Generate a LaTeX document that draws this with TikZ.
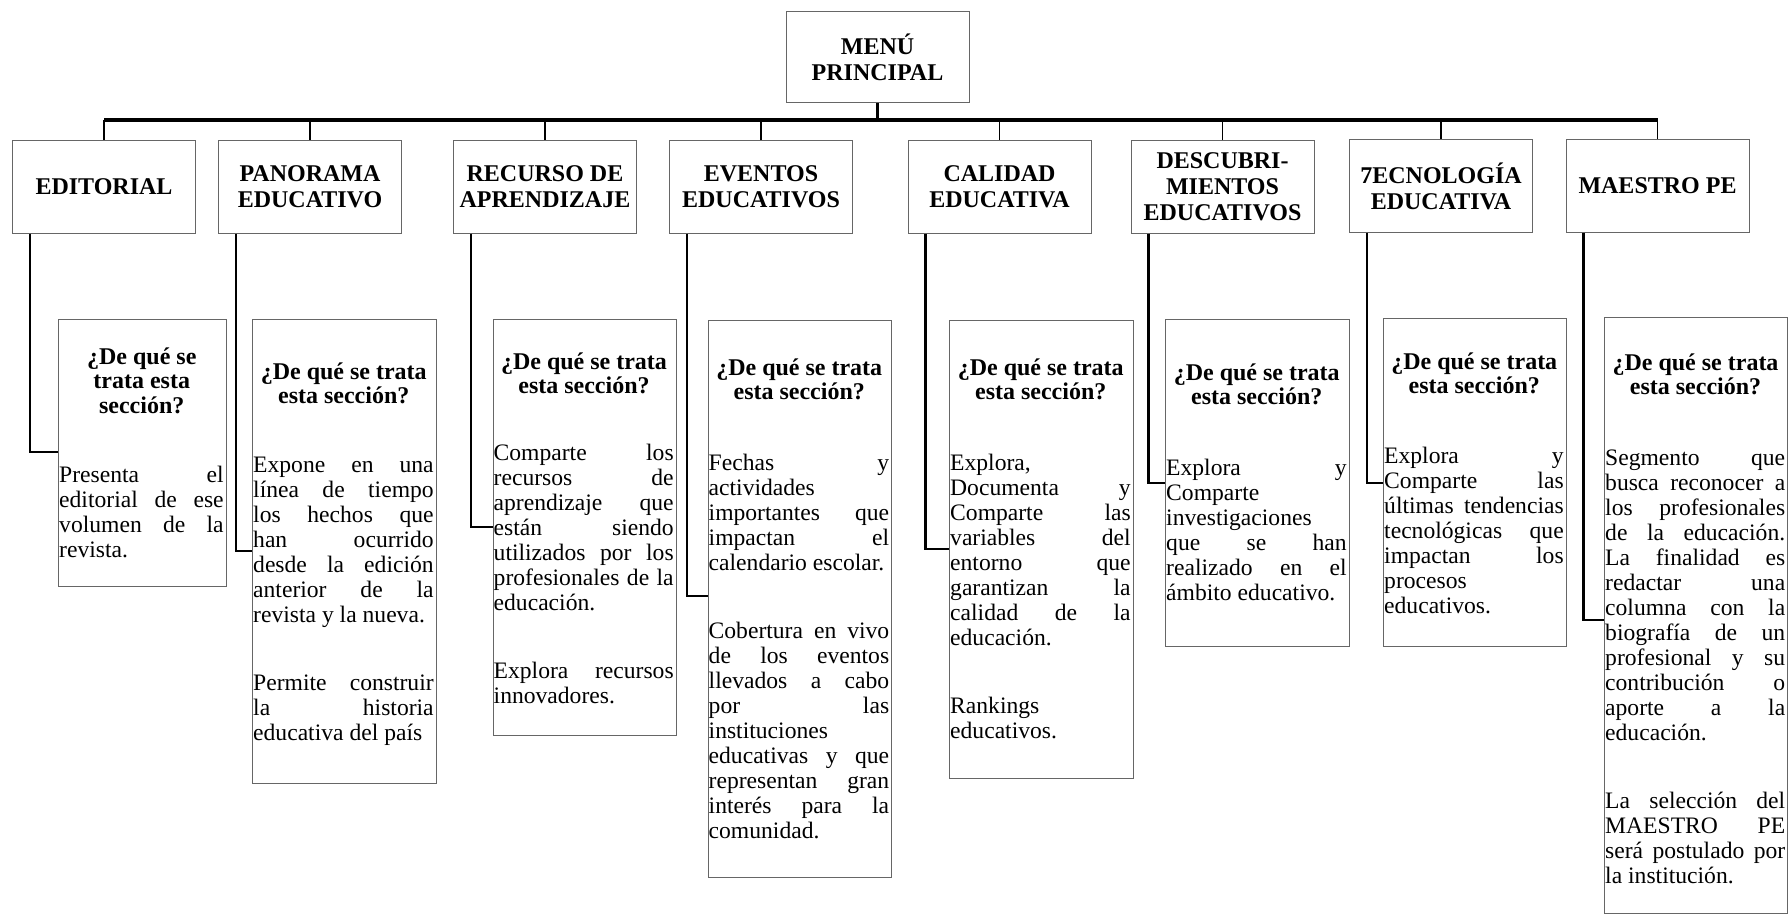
\documentclass[tikz,border=0pt]{standalone}
\usepackage{fontspec}
\setmainfont{Liberation Serif}
\tolerance=10000
\hbadness=10000
\hyphenpenalty=10000

\begin{document}
\begin{tikzpicture}[x=1pt, y=-1pt,
    seccion/.style={draw=black!60, line width=1pt, minimum width=183pt, minimum height=92pt,
      inner sep=0pt, align=center, font=\fontsize{24}{26}\selectfont\bfseries},
    caja/.style={draw=black!60, line width=1pt, anchor=north west, inner sep=0pt},
    pregunta/.style={anchor=base, inner sep=0pt, align=center, font=\fontsize{24}{24.5}\selectfont\bfseries},
    texto/.style={anchor=base west, inner sep=0pt, align=justify, font=\fontsize{23.6}{25}\selectfont},
    barra/.style={line width=3.4pt},
    rama/.style={line width=1.8pt},
    enlace/.style={line width=2.4pt}]

   \useasboundingbox (0,0) rectangle (1789,915);

   % menu and the eight sections
   \node[seccion, minimum height=91pt] (menu) at (877.5,57) {MENÚ\\PRINCIPAL};
   \node[seccion] (ed)  at (104,187)    {EDITORIAL};
   \node[seccion] (pan) at (310,187)    {PANORAMA\\EDUCATIVO};
   \node[seccion] (rec) at (545,187)    {RECURSO DE\\APRENDIZAJE};
   \node[seccion] (ev)  at (761,187)    {EVENTOS\\EDUCATIVOS};
   \node[seccion] (cal) at (999.5,187)  {CALIDAD\\EDUCATIVA};
   \node[seccion] (des) at (1222.5,187) {DESCUBRI-\\MIENTOS\\EDUCATIVOS};
   \node[seccion] (tec) at (1441,186)   {7ECNOLOGÍA\\EDUCATIVA};
   \node[seccion] (mae) at (1657.5,186) {MAESTRO PE};
   \coordinate (bus) at (877.5,120);

   % description boxes
   \node[caja, minimum width=167.5pt, minimum height=267pt] (s1) at (58,319) {};
   \node[caja, minimum width=183.5pt, minimum height=464pt] (s2) at (252,319) {};
   \node[caja, minimum width=183pt,   minimum height=416pt] (s3) at (492.5,319) {};
   \node[caja, minimum width=183.5pt, minimum height=557pt] (s4) at (707.5,320) {};
   \node[caja, minimum width=183.5pt, minimum height=458pt] (s5) at (949,320) {};
   \node[caja, minimum width=183.5pt, minimum height=327pt] (s6) at (1165,319) {};
   \node[caja, minimum width=182.5pt, minimum height=328pt] (s7) at (1383,318) {};
   \node[caja, minimum width=183pt,   minimum height=596pt] (s8) at (1604,317) {};

   % headings sit on the baseline of their last line
   \node[pregunta] (q1) at (141.75,413)  {¿De qué se\\trata esta\\sección?};
   \node[pregunta] (q2) at (343.75,403.5) {¿De qué se trata\\esta sección?};
   \node[pregunta] (q3) at (584,393.5)     {¿De qué se trata\\esta sección?};
   \node[pregunta] (q4) at (799.25,399.5)  {¿De qué se trata\\esta sección?};
   \node[pregunta] (q5) at (1040.75,399.5) {¿De qué se trata\\esta sección?};
   \node[pregunta] (q6) at (1256.75,404.5) {¿De qué se trata\\esta sección?};
   \node[pregunta] (q7) at (1474.25,393.5) {¿De qué se trata\\esta sección?};
   \node[pregunta] (q8) at (1695.5,394.5)  {¿De qué se trata\\esta sección?};

   \node[texto, text width=164.5pt] (b1) at (59,482)
     {Presenta el\linebreak editorial de ese\linebreak volumen de la\linebreak revista.};
   \node[texto, text width=180.5pt] (b2) at (253,472)
     {Expone en una\linebreak línea de tiempo\linebreak los hechos que\linebreak han ocurrido\linebreak
      desde la edición\linebreak anterior de la\linebreak revista y la nueva.\\[43.5pt]
      Permite construir\linebreak la historia\linebreak educativa del país};
   \node[texto, text width=180pt] (b3) at (493.5,460)
     {Comparte los\linebreak recursos de\linebreak aprendizaje que\linebreak están siendo\linebreak
      utilizados por los\linebreak profesionales de la\linebreak educación.\\[43.5pt]
      Explora recursos\linebreak innovadores.};
   \node[texto, text width=180.5pt] (b4) at (708.5,470)
     {Fechas y\linebreak actividades\linebreak importantes que\linebreak impactan el\linebreak
      calendario escolar.\\[43.5pt]
      Cobertura en vivo\linebreak de los eventos\linebreak llevados a cabo\linebreak por las\linebreak
      instituciones\linebreak educativas y que\linebreak representan gran\linebreak interés para la\linebreak
      comunidad.};
   \node[texto, text width=180.5pt] (b5) at (950,470)
     {Explora,\linebreak Documenta y\linebreak Comparte las\linebreak variables del\linebreak
      entorno que\linebreak garantizan la\linebreak calidad de la\linebreak educación.\\[43.5pt]
      Rankings\linebreak educativos.};
   \node[texto, text width=180.5pt] (b6) at (1166,475)
     {Explora y\linebreak Comparte\linebreak investigaciones\linebreak que se han\linebreak
      realizado en el\linebreak ámbito educativo.};
   \node[texto, text width=179.5pt] (b7) at (1384,463)
     {Explora y\linebreak Comparte las\linebreak últimas tendencias\linebreak tecnológicas que\linebreak
      impactan los\linebreak procesos\linebreak educativos.};
   \node[texto, text width=180pt] (b8) at (1605,465)
     {Segmento que\linebreak busca reconocer a\linebreak los profesionales\linebreak de la educación.\linebreak
      La finalidad es\linebreak redactar una\linebreak columna con la\linebreak biografía de un\linebreak
      profesional y su\linebreak contribución o\linebreak aporte a la\linebreak educación.\\[43.5pt]
      La selección del\linebreak MAESTRO PE\linebreak será postulado por\linebreak la institución.};

   % menu down to the bus, bus across, drops to each section
   \draw[barra] (menu.south) -- (bus);
   \draw[barra] (ed.north |- bus) -- (mae.north |- bus);
   \draw[rama] (ed.north |- bus) -- (ed.north);
   \draw[rama] (pan.north |- bus) -- (pan.north);
   \draw[rama] (rec.north |- bus) -- (rec.north);
   \draw[rama] (ev.north |- bus) -- (ev.north);
   \draw[rama] (cal.north |- bus) -- (cal.north);
   \draw[rama] (des.north |- bus) -- (des.north);
   \draw[rama] (tec.north |- bus) -- (tec.north);
   \draw[rama] (mae.north |- bus) -- (mae.north);

   % each section down to its box
   \draw[enlace] ([xshift=18pt]ed.south west)  |- ([yshift=-133pt]s1.north west);
   \draw[enlace] ([xshift=18pt]pan.south west) |- ([yshift=-232pt]s2.north west);
   \draw[enlace] ([xshift=18pt]rec.south west) |- ([yshift=-208pt]s3.north west);
   \draw[enlace] ([xshift=18pt]ev.south west)  |- ([yshift=-276pt]s4.north west);
   \draw[enlace] ([xshift=18pt]cal.south west) |- ([yshift=-229pt]s5.north west);
   \draw[enlace] ([xshift=18pt]des.south west) |- ([yshift=-164pt]s6.north west);
   \draw[enlace] ([xshift=18pt]tec.south west) |- ([yshift=-165pt]s7.north west);
   \draw[enlace] ([xshift=18pt]mae.south west) |- ([yshift=-303pt]s8.north west);
\end{tikzpicture}
\end{document}
